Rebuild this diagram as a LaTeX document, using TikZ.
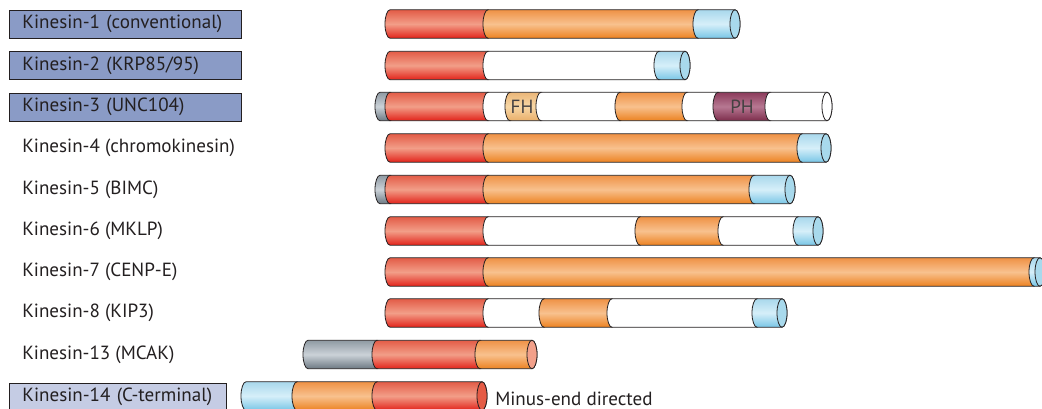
\documentclass[tikz,border=0pt]{standalone}
\usepackage{fontspec}
\setmainfont{PT Sans}

\definecolor{ink}{HTML}{231F20}
\definecolor{boxblue}{HTML}{8A9BC6}
\definecolor{boxpale}{HTML}{C5CCE4}
\definecolor{motorA}{HTML}{E35C47}
\definecolor{motorB}{HTML}{F29E88}
\definecolor{motorC}{HTML}{E2231A}
\definecolor{coilA}{HTML}{EF9246}
\definecolor{coilB}{HTML}{F8C18E}
\definecolor{coilC}{HTML}{EC8221}
\definecolor{tailA}{HTML}{A9D8EC}
\definecolor{tailB}{HTML}{D6EFF9}
\definecolor{tailC}{HTML}{79C6E6}
\definecolor{nA}{HTML}{8F9AA3}
\definecolor{nB}{HTML}{CBD2D8}
\definecolor{nC}{HTML}{6D7983}
\definecolor{fhA}{HTML}{EBB678}
\definecolor{fhB}{HTML}{F7D7A6}
\definecolor{fhC}{HTML}{E9AF6A}
\definecolor{phA}{HTML}{8C3B5B}
\definecolor{phB}{HTML}{B77892}
\definecolor{phC}{HTML}{7D2D4C}
\definecolor{tailface}{HTML}{A8D9EC}
\definecolor{salmonface}{HTML}{F2A08A}
\definecolor{motorface}{HTML}{E55B45}

% one piece of a bar: y, from x, to x, style
\newcommand{\seg}[4]{%
\shadedraw[#4] (#2,#1-14.2) -- (#3,#1-14.2)
  arc[start angle=-90,end angle=90,x radius=5,y radius=14.2]
  -- (#2,#1+14.2)
  arc[start angle=90,end angle=270,x radius=5,y radius=14.2] -- cycle;}
% end face of a bar: y, x, colour
\newcommand{\capend}[3]{%
\filldraw[fill=#3,draw=ink,line width=0.6pt] (#2,#1) ellipse[x radius=5,y radius=14.2];}

\tikzset{
barline/.style={draw=ink,line width=0.6pt},
motorseg/.style={barline,top color=motorA,bottom color=motorC,middle color=motorB},
coilseg/.style={barline,top color=coilA,bottom color=coilC,middle color=coilB},
tailseg/.style={barline,top color=tailA,bottom color=tailC,middle color=tailB},
nseg/.style={barline,top color=nA,bottom color=nC,middle color=nB},
fhseg/.style={barline,top color=fhA,bottom color=fhC,middle color=fhB},
phseg/.style={barline,top color=phA,bottom color=phC,middle color=phB},
gapseg/.style={barline,top color=white,bottom color=white},
klabel/.style={anchor=west,inner sep=0pt,text=ink,font=\fontsize{14.3}{16}\selectfont},
kbox/.style={klabel,draw=ink,line width=0.6pt,fill=boxblue,inner xsep=9.75pt,
  minimum height=21pt,text width=154.5pt,align=left},
}

\begin{document}
\begin{tikzpicture}[x=0.75pt,y=-0.75pt]

\useasboundingbox (0,0) rectangle (1042,409);
\clip (0,0) rectangle (1042,409);

% family names
\node[kbox] (k1) at (9,24) {\mbox{Kinesin-1 (conventional)}};
\node[kbox] (k2) at (9,65.5) {Kinesin-2 (KRP85/95)};
\node[kbox] (k3) at (9,107) {Kinesin-3 (UNC104)};
\node[klabel] (k4) at (22,148) {Kinesin-4 (chromokinesin)};
\node[klabel] (k5) at (22,189.5) {Kinesin-5 (BIMC)};
\node[klabel] (k6) at (22,231) {Kinesin-6 (MKLP)};
\node[klabel] (k7) at (22,272) {Kinesin-7 (CENP-E)};
\node[klabel] (k8) at (22,313) {Kinesin-8 (KIP3)};
\node[klabel] (k13) at (22,354.5) {Kinesin-13 (MCAK)};
\node[kbox,fill=boxpale,text width=143.25pt] (k14) at (9,397) {\mbox{Kinesin-14 (C-terminal)}};

% Kinesin-1
\seg{24}{390}{488}{motorseg}
\seg{24}{488}{698}{coilseg}
\seg{24}{698}{735}{tailseg}
\capend{24}{735}{tailface}

% Kinesin-2
\seg{65.5}{390}{488}{motorseg}
\seg{65.5}{488}{659}{gapseg}
\seg{65.5}{659}{685}{tailseg}
\capend{65.5}{685}{tailface}

% Kinesin-3
\seg{106.5}{380}{390}{nseg}
\seg{106.5}{390}{488}{motorseg}
\seg{106.5}{488}{510}{gapseg}
\seg{106.5}{510}{541}{fhseg}
\seg{106.5}{541}{620}{gapseg}
\seg{106.5}{620}{687}{coilseg}
\seg{106.5}{687}{718}{gapseg}
\seg{106.5}{718}{770}{phseg}
\seg{106.5}{770}{827}{gapseg}
\capend{106.5}{827}{white}
\node[text=ink!85,font=\fontsize{14.3}{16}\selectfont] (fh) at (522,106.5) {FH};
\node[text=ink!85,font=\fontsize{14.3}{16}\selectfont] (ph) at (742,106.5) {PH};

% Kinesin-4
\seg{148}{390}{488}{motorseg}
\seg{148}{488}{802}{coilseg}
\seg{148}{802}{826}{tailseg}
\capend{148}{826}{tailface}

% Kinesin-5
\seg{189.5}{380}{390}{nseg}
\seg{189.5}{390}{488}{motorseg}
\seg{189.5}{488}{754}{coilseg}
\seg{189.5}{754}{790}{tailseg}
\capend{189.5}{790}{tailface}

% Kinesin-6
\seg{231}{390}{488}{motorseg}
\seg{231}{488}{640}{gapseg}
\seg{231}{640}{723}{coilseg}
\seg{231}{723}{798}{gapseg}
\seg{231}{798}{818}{tailseg}
\capend{231}{818}{tailface}

% Kinesin-7
\seg{272}{390}{488}{motorseg}
\seg{272}{488}{1034}{coilseg}
\seg{272}{1034}{1040}{tailseg}
\capend{272}{1040}{tailface}

% Kinesin-8
\seg{313}{390}{488}{motorseg}
\seg{313}{488}{544}{gapseg}
\seg{313}{544}{612}{coilseg}
\seg{313}{612}{757}{gapseg}
\seg{313}{757}{782}{tailseg}
\capend{313}{782}{tailface}

% Kinesin-13
\seg{354.5}{308}{377}{nseg}
\seg{354.5}{377}{480}{motorseg}
\seg{354.5}{480}{532}{coilseg}
\capend{354.5}{532}{salmonface}

% Kinesin-14
\seg{396}{246}{297}{tailseg}
\seg{396}{297}{377}{coilseg}
\seg{396}{377}{482}{motorseg}
\capend{396}{482}{motorface}
\node[klabel] (minus) at (495,399) {Minus-end directed};

\end{tikzpicture}
\end{document}
